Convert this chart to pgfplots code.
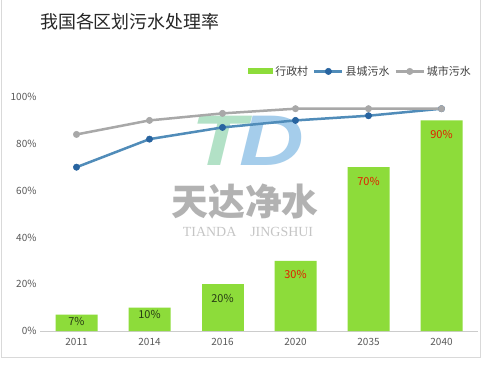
\documentclass[border=0pt]{standalone}
\usepackage{pgfplots}
\pgfplotsset{compat=1.18}
\usepackage{fontspec}
\setmainfont{Noto Sans CJK SC}
\newfontfamily\wmserif{Liberation Serif}
\newfontfamily\wmsans{Liberation Sans}
\definecolor{barg}{RGB}{141,220,58}
\definecolor{lblue}{RGB}{80,140,185}
\definecolor{mblue}{RGB}{40,100,160}
\definecolor{lgray}{RGB}{168,168,168}
\definecolor{tickc}{RGB}{89,89,89}
\definecolor{lblred}{RGB}{225,30,0}
\definecolor{lbldark}{RGB}{40,60,20}
\definecolor{wmT}{RGB}{178,225,198}
\definecolor{wmD}{RGB}{165,205,235}
\begin{document}
\begin{tikzpicture}[x=1bp,y=1bp]
\useasboundingbox (0,0) rectangle (484,369);
\fill[white] (0,0) rectangle (484,369);
\draw[gray!30, line width=1bp] (1,369) -- (1,12) -- (480,12) -- (480,369);
% watermark
\node[font=\wmsans\bfseries\itshape\fontsize{72}{72}\selectfont, xscale=1.25, inner sep=0pt] at (248,228) {\textcolor{wmT}{T}\kern-6bp\textcolor{wmD}{D}};
\node[font=\bfseries\fontsize{37}{37}\selectfont, text=gray, opacity=0.6] at (245,167) {天达净水};
\node[font=\wmserif\fontsize{14}{14}\selectfont, text=gray, opacity=0.45] at (248,137) {TIANDA\quad JINGSHUI};
% title
\node[anchor=west, inner sep=0pt, font=\fontsize{18}{18}\selectfont, text=black!85] at (40,347) {我国各区划污水处理率};
\begin{axis}[
  at={(40bp,38bp)}, anchor=south west, scale only axis,
  width=438bp, height=234bp,
  xmin=-0.5, xmax=5.5, ymin=0, ymax=100,
  axis lines=left, axis line style={-},
  y axis line style={draw=none},
  x axis line style={draw=gray!40, line width=0.8bp},
  major tick length=0pt,
  xtick={0,...,5}, xticklabels={2011,2014,2016,2020,2035,2040},
  ytick={0,20,...,100},
  yticklabel={\pgfmathprintnumber{\tick}\%},
  /pgf/number format/assume math mode=true,
  tick label style={font=\fontsize{10}{10}\selectfont, text=tickc},
  xticklabel style={yshift=-4bp},
  legend columns=3,
  legend style={at={(1,1)}, anchor=south east, yshift=16bp, xshift=-2bp,
    draw=none, fill=none, font=\fontsize{11}{11}\selectfont, text=black!75,
    /tikz/every even column/.append style={column sep=3bp}},
  legend image code/.code={\draw[mark repeat=2,mark phase=2,#1] plot coordinates {(0bp,0bp) (14bp,0bp) (28bp,0bp)};},
]
\addplot[ybar, bar width=42bp, bar shift=0pt, fill=barg, draw=none,
  legend image code/.code={\fill[barg] (0bp,-3bp) rectangle (25bp,3bp);},
  nodes near coords={\pgfmathprintnumber{\pgfplotspointmeta}\%},
  every node near coord/.style={anchor=center, yshift=-6.5bp, text=lbldark, font=\fontsize{11}{11}\selectfont}]
  coordinates {(0,7) (1,10)};
\addlegendentry{行政村}
\addplot[ybar, bar width=42bp, bar shift=0pt, fill=barg, draw=none, forget plot,
  nodes near coords={\pgfmathprintnumber{\pgfplotspointmeta}\%},
  every node near coord/.style={anchor=center, yshift=-14bp, text=lbldark, font=\fontsize{11}{11}\selectfont}]
  coordinates {(2,20)};
\addplot[ybar, bar width=42bp, bar shift=0pt, fill=barg, draw=none, forget plot,
  nodes near coords={\pgfmathprintnumber{\pgfplotspointmeta}\%},
  every node near coord/.style={anchor=center, yshift=-14bp, text=lblred, font=\fontsize{11}{11}\selectfont}]
  coordinates {(3,30) (4,70) (5,90)};
\addplot[color=lblue, line width=2.5bp, mark=*, mark size=3.2bp, mark options={fill=mblue, draw=mblue, line width=0.5bp}]
  coordinates {(0,70) (1,82) (2,87) (3,90) (4,92) (5,95)};
\addlegendentry{县城污水}
\addplot[color=lgray, line width=2.5bp, mark=*, mark size=3.2bp, mark options={fill=lgray, draw=lgray, line width=0.5bp}]
  coordinates {(0,84) (1,90) (2,93) (3,95) (4,95) (5,95)};
\addlegendentry{城市污水}
\end{axis}
\end{tikzpicture}
\end{document}
